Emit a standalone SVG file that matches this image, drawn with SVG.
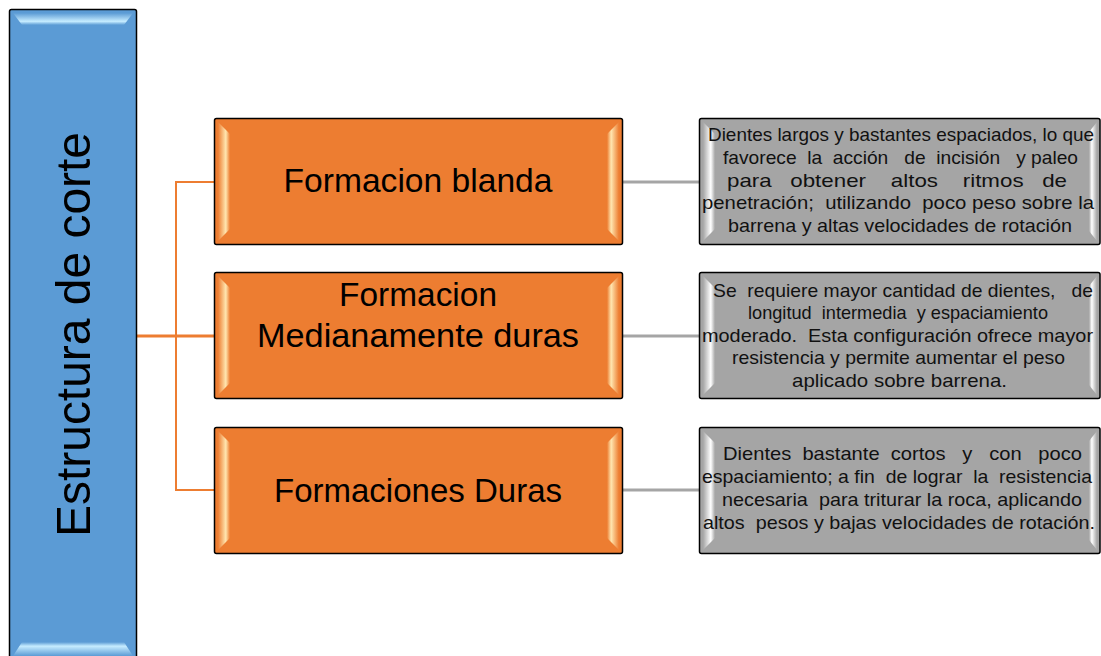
<svg xmlns="http://www.w3.org/2000/svg" width="1101" height="656" viewBox="0 0 1101 656">
  <defs>
    <linearGradient id="bTop" x1="0" y1="0" x2="0" y2="1">
      <stop offset="0" stop-color="#5B9BD5"/>
      <stop offset="0.7" stop-color="#C6ECFF"/>
      <stop offset="1" stop-color="#5B9BD5"/>
    </linearGradient>
    <linearGradient id="bBot" x1="0" y1="1" x2="0" y2="0">
      <stop offset="0" stop-color="#5B9BD5"/>
      <stop offset="0.7" stop-color="#C6ECFF"/>
      <stop offset="1" stop-color="#5B9BD5"/>
    </linearGradient>
    <linearGradient id="oL" x1="0" y1="0" x2="1" y2="0">
      <stop offset="0" stop-color="#ED7D31"/>
      <stop offset="0.65" stop-color="#FFE6B0"/>
      <stop offset="1" stop-color="#ED7D31"/>
    </linearGradient>
    <linearGradient id="oR" x1="1" y1="0" x2="0" y2="0">
      <stop offset="0" stop-color="#ED7D31"/>
      <stop offset="0.65" stop-color="#FFE6B0"/>
      <stop offset="1" stop-color="#ED7D31"/>
    </linearGradient>
    <linearGradient id="gL" x1="0" y1="0" x2="1" y2="0">
      <stop offset="0" stop-color="#A5A5A5"/>
      <stop offset="0.65" stop-color="#FFFFFF"/>
      <stop offset="1" stop-color="#A5A5A5"/>
    </linearGradient>
    <linearGradient id="gR" x1="1" y1="0" x2="0" y2="0">
      <stop offset="0" stop-color="#A5A5A5"/>
      <stop offset="0.65" stop-color="#FFFFFF"/>
      <stop offset="1" stop-color="#A5A5A5"/>
    </linearGradient>
  </defs>
  <style>
    .box { stroke: #000; stroke-width: 1.5; }
    .blue { fill: #5B9BD5; }
    .orange { fill: #ED7D31; }
    .gray { fill: #A5A5A5; }
    .oc { stroke: #ED7D31; fill: none; }
    .gc { stroke: #A5A5A5; fill: none; stroke-width: 3; }
    .t { font-family: "Liberation Sans", Arial, sans-serif; fill: #000; white-space: pre; }
    .big { font-size: 34px; text-anchor: middle; }
    .small { font-size: 19px; fill: #111; }
  </style>

  <g id="connectors">
    <line class="oc" x1="137" y1="336" x2="214" y2="336" stroke-width="3"/>
    <line class="oc" x1="176" y1="181" x2="176" y2="491" stroke-width="2"/>
    <line class="oc" x1="176" y1="182" x2="214" y2="182" stroke-width="2"/>
    <line class="oc" x1="176" y1="490" x2="214" y2="490" stroke-width="2"/>
    <line class="gc" x1="623" y1="182" x2="700" y2="182"/>
    <line class="gc" x1="623" y1="336" x2="700" y2="336"/>
    <line class="gc" x1="623" y1="490" x2="700" y2="490"/>
  </g>

  <g id="root">
    <rect class="box blue" x="9.5" y="9.5" width="127" height="670" rx="2"/>
    <polygon points="13,13 133,13 124,25 22,25" fill="url(#bTop)"/>
    <polygon points="22,642 124,642 133,656 13,656" fill="url(#bBot)"/>
    <text class="t" transform="translate(90,334.5) rotate(-90)" font-size="49" text-anchor="middle" textLength="405" lengthAdjust="spacingAndGlyphs">Estructura de corte</text>
  </g>

  <g id="n1">
    <rect class="box orange" x="214.5" y="118.5" width="408" height="126" rx="2"/>
    <polygon points="218,122 230,134 230,229 218,241" fill="url(#oL)"/>
    <polygon points="619,122 607,134 607,229 619,241" fill="url(#oR)"/>
    <text class="t big" x="418" y="192" textLength="269" lengthAdjust="spacingAndGlyphs">Formacion blanda</text>
  </g>

  <g id="n2">
    <rect class="box orange" x="214.5" y="272.5" width="408" height="126" rx="2"/>
    <polygon points="218,276 230,288 230,383 218,395" fill="url(#oL)"/>
    <polygon points="619,276 607,288 607,383 619,395" fill="url(#oR)"/>
    <text class="t big" x="418" y="306" textLength="158" lengthAdjust="spacingAndGlyphs">Formacion</text>
    <text class="t big" x="418" y="347" textLength="322" lengthAdjust="spacingAndGlyphs">Medianamente duras</text>
  </g>

  <g id="n3">
    <rect class="box orange" x="214.5" y="427.5" width="408" height="126" rx="2"/>
    <polygon points="218,431 230,443 230,538 218,550" fill="url(#oL)"/>
    <polygon points="619,431 607,443 607,538 619,550" fill="url(#oR)"/>
    <text class="t big" x="418" y="502" textLength="288" lengthAdjust="spacingAndGlyphs">Formaciones Duras</text>
  </g>

  <g id="d1">
    <rect class="box gray" x="699.5" y="118.5" width="400.5" height="126" rx="2"/>
    <polygon points="703,122 715,134 715,229 703,241" fill="url(#gL)"/>
    <polygon points="1097,122 1089,132 1089,231 1097,241" fill="url(#gR)"/>
    <text class="t small" x="708" y="141" textLength="386" lengthAdjust="spacingAndGlyphs">Dientes largos y bastantes espaciados, lo que</text>
    <text class="t small" x="723" y="164" textLength="355" lengthAdjust="spacingAndGlyphs">favorece  la  acción   de  incisión   y paleo</text>
    <text class="t small" x="727" y="187" textLength="340" lengthAdjust="spacingAndGlyphs">para   obtener    altos    ritmos   de</text>
    <text class="t small" x="702" y="209" textLength="392" lengthAdjust="spacingAndGlyphs">penetración;  utilizando  poco peso sobre la</text>
    <text class="t small" x="728" y="232" textLength="344" lengthAdjust="spacingAndGlyphs">barrena y altas velocidades de rotación</text>
  </g>

  <g id="d2">
    <rect class="box gray" x="699.5" y="272.5" width="400.5" height="126" rx="2"/>
    <polygon points="703,276 715,288 715,383 703,395" fill="url(#gL)"/>
    <polygon points="1097,276 1089,286 1089,385 1097,395" fill="url(#gR)"/>
    <text class="t small" x="713" y="297" textLength="380" lengthAdjust="spacingAndGlyphs">Se  requiere mayor cantidad de dientes,   de</text>
    <text class="t small" x="748" y="319" textLength="300" lengthAdjust="spacingAndGlyphs">longitud  intermedia  y espaciamiento</text>
    <text class="t small" x="702" y="342" textLength="391" lengthAdjust="spacingAndGlyphs">moderado.  Esta configuración ofrece mayor</text>
    <text class="t small" x="732" y="364" textLength="333" lengthAdjust="spacingAndGlyphs">resistencia y permite aumentar el peso</text>
    <text class="t small" x="792" y="387" textLength="215" lengthAdjust="spacingAndGlyphs">aplicado sobre barrena.</text>
  </g>

  <g id="d3">
    <rect class="box gray" x="699.5" y="427.5" width="400.5" height="126" rx="2"/>
    <polygon points="703,431 715,443 715,538 703,550" fill="url(#gL)"/>
    <polygon points="1097,431 1089,441 1089,540 1097,550" fill="url(#gR)"/>
    <text class="t small" x="723" y="460" textLength="359" lengthAdjust="spacingAndGlyphs">Dientes  bastante  cortos   y   con   poco</text>
    <text class="t small" x="702" y="483" textLength="390" lengthAdjust="spacingAndGlyphs">espaciamiento; a fin  de lograr  la  resistencia</text>
    <text class="t small" x="722" y="506" textLength="360" lengthAdjust="spacingAndGlyphs">necesaria  para triturar la roca, aplicando</text>
    <text class="t small" x="703" y="529" textLength="392" lengthAdjust="spacingAndGlyphs">altos  pesos y bajas velocidades de rotación.</text>
  </g>
</svg>
